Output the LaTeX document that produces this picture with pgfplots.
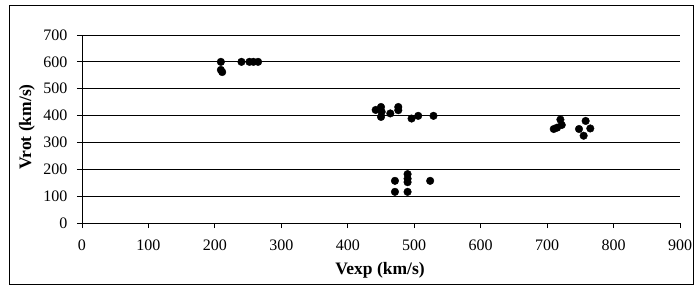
\documentclass[border=0pt]{standalone}
\usepackage{pgfplots}
\pgfplotsset{compat=1.18}
\usepackage{fontspec}
\setmainfont{Liberation Serif}
\begin{document}
\begin{tikzpicture}[x=1pt,y=1pt]
\useasboundingbox (-82,-64) rectangle (614,223);
\draw[black, line width=1pt] (-72,-61) rectangle (611,217);
\begin{axis}[
  at={(0,0)}, anchor=origin,
  scale only axis, width=598pt, height=188pt,
  xmin=0, xmax=900, ymin=0, ymax=700,
  xtick={0,100,...,900}, ytick={0,100,...,700},
  axis x line*=bottom, axis y line*=left,
  axis line style={black, line width=0.8pt, -},
  ymajorgrids, grid style={black, line width=0.8pt},
  tick style={black, line width=0.8pt},
  tick align=outside, major tick length=5pt,
  tick label style={font=\fontsize{16}{18}\selectfont},
  /pgf/number format/assume math mode=true,
  xticklabel style={yshift=-8pt},
  yticklabel style={xshift=-6pt},
  clip=false,
]
\addplot[only marks, mark=*, mark size=3.8pt, black] coordinates {
(209,600) (209,570) (211,562) (240,600) (252,600) (258,600) (265,600)
(442,421) (450,432) (451,414) (450,395) (464,408) (476,420) (476,432) (496,389) (506,399) (529,399)
(471,157) (490,182) (490,165) (490,152) (471,116) (490,116) (524,157)
(710,350) (715,355) (720,385) (722,365) (748,350) (755,325) (758,380) (765,352)
};
\end{axis}
\node[font=\fontsize{17.5}{20}\selectfont\bfseries] at (298,-47) {Vexp (km/s)};
\node[font=\fontsize{17.5}{20}\selectfont\bfseries, rotate=90] at (-55,96) {Vrot (km/s)};
\end{tikzpicture}
\end{document}
